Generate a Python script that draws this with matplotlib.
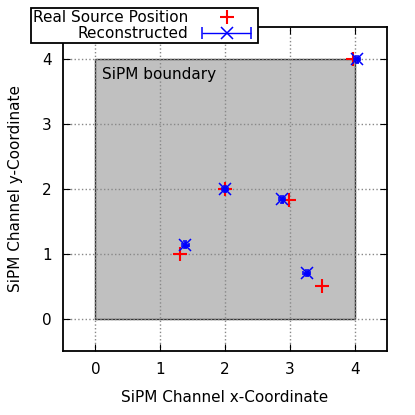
import numpy as np
import matplotlib.pyplot as plt
from matplotlib.patches import Rectangle
from matplotlib.container import ErrorbarContainer
from matplotlib.legend_handler import HandlerErrorbar

# real source positions
real_x = [1.3, 2.0, 2.98, 3.5, 3.97]
real_y = [1.0, 2.0, 1.83, 0.5, 4.0]

# reconstructed positions
reco_x = [1.39, 2.0, 2.88, 3.26, 4.04]
reco_y = [1.14, 2.0, 1.84, 0.70, 4.0]
reco_xerr = [0.05, 0.05, 0.05, 0.05, 0.05]
reco_yerr = [0.05, 0.05, 0.05, 0.05, 0.05]

ticks = [0, 1, 2, 3, 4]

fig = plt.figure(figsize=(4.15, 4.15), dpi=100)
ax = fig.add_axes([63/415, 64/415, 324/415, 324/415])

ax.add_patch(Rectangle((0, 0), 4, 4, facecolor='#c0c0c0', edgecolor='#333333', lw=1, zorder=1))
ax.text(0.1, 3.77, 'SiPM boundary', fontsize=11, va='center', ha='left', zorder=3)

ax.plot(real_x, real_y, '+', color='red', ms=10, mew=1.5, ls='none',
        label='Real Source Position', zorder=4)
ax.errorbar(reco_x, reco_y, xerr=reco_xerr, yerr=reco_yerr, fmt='x', color='blue',
            ms=9, mew=1.1, elinewidth=2, capsize=1.5, capthick=1, zorder=5)
# legend proxy with visible caps
ax.errorbar([np.nan], [np.nan], xerr=[1], fmt='x', color='blue', ms=9, mew=1.1,
            elinewidth=1, capsize=4, label='Reconstructed')

ax.set_xlim(-0.5, 4.5)
ax.set_ylim(-0.5, 4.5)
ax.set_xticks(ticks)
ax.set_yticks(ticks)
ax.tick_params(direction='in', top=True, right=True, length=5, labelsize=11, pad=8)
ax.grid(True, ls=':', color='#888888', lw=1)
for s in ax.spines.values():
    s.set_linewidth(1.3)

ax.set_xlabel('SiPM Channel x-Coordinate', fontsize=11, labelpad=9)
ax.set_ylabel('SiPM Channel y-Coordinate', fontsize=11, labelpad=14)

leg = fig.legend(loc='upper left', bbox_to_anchor=(31/415, 1 - 8/415), markerfirst=False,
                 fontsize=11, fancybox=False, framealpha=1, edgecolor='black',
                 borderpad=0.15, labelspacing=0.05, handlelength=3.8, handletextpad=0.6,
                 borderaxespad=0,
                 handler_map={ErrorbarContainer: HandlerErrorbar(xerr_size=1.6)})
leg.get_frame().set_linewidth(1.3)

fig.savefig('out.png', dpi=100)
